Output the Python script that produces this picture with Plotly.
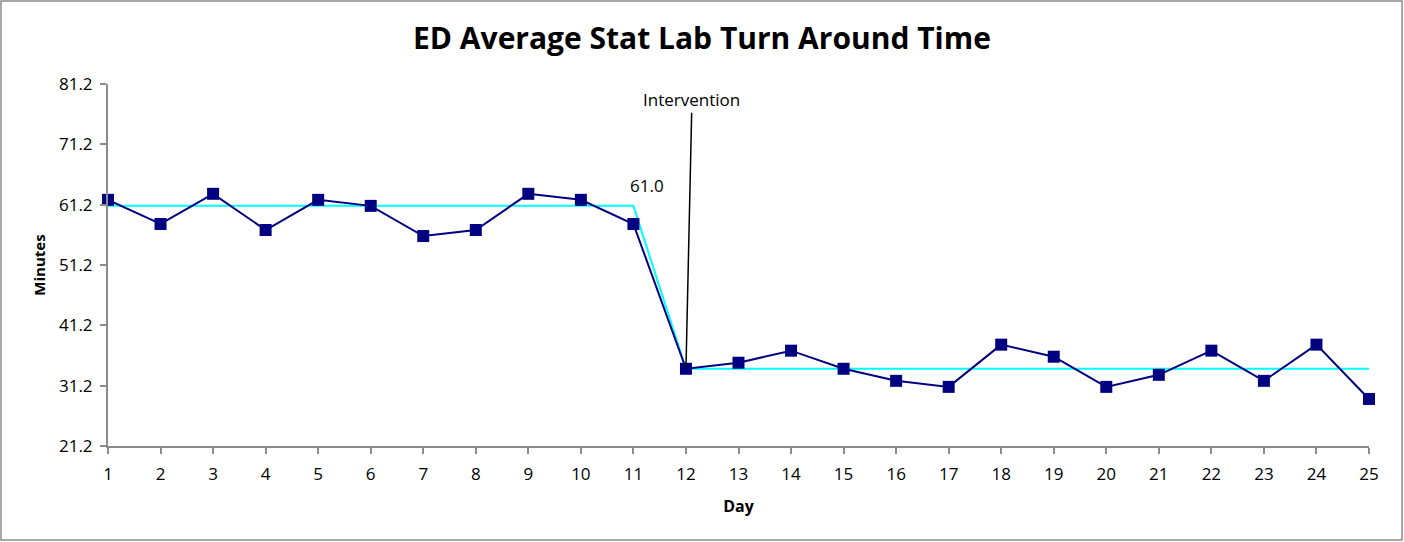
import plotly.graph_objects as go

days = list(range(1, 26))
minutes = [62, 58, 63, 57, 62, 61, 56, 57, 63, 62, 58,
           34, 35, 37, 34, 32, 31, 38, 36, 31, 33, 37, 32, 38, 29]
mean_line = [61.0] * 11 + [34.0] * 14
y_ticks = [21.2, 31.2, 41.2, 51.2, 61.2, 71.2, 81.2]

FONT = "Open Sans"

fig = go.Figure()
fig.add_trace(go.Scatter(
    x=days, y=mean_line, mode="lines",
    line=dict(color="#00FFFF", width=2), cliponaxis=False, showlegend=False,
))
fig.add_trace(go.Scatter(
    x=days, y=minutes, mode="lines+markers",
    line=dict(color="#000080", width=2),
    marker=dict(symbol="square", size=12, color="#000080"),
    cliponaxis=False, showlegend=False,
))

fig.add_annotation(x=12, y=minutes[11], xref="x", yref="y",
                   text="Intervention", showarrow=True, arrowhead=0,
                   arrowwidth=1.5, arrowcolor="black", ax=6, ay=-269,
                   font=dict(family=FONT, size=17, color="black"))
fig.add_annotation(x=11.26, y=64.3, xref="x", yref="y", text="61.0",
                   showarrow=False, font=dict(family=FONT, size=17, color="black"))

# outer border
fig.add_shape(type="rect", xref="paper", yref="paper",
              x0=(1 - 108) / 1261, x1=(1402 - 108) / 1261,
              y0=(446 - 540) / 362, y1=(446 - 1) / 362,
              line=dict(color="#8c8c8c", width=1.5), layer="below")

fig.update_layout(
    width=1404, height=542,
    margin=dict(l=108, r=35, t=84, b=96),
    plot_bgcolor="white", paper_bgcolor="white",
    title=dict(text="<b>ED Average Stat Lab Turn Around Time</b>", x=0.5, xanchor="center",
               y=1 - 38 / 542, yanchor="middle",
               font=dict(family=FONT, size=30, color="black")),
    xaxis=dict(range=[1, 25], tickmode="array", tickvals=days,
               showgrid=False, zeroline=False, showline=True, linecolor="#8c8c8c", linewidth=2,
               ticks="outside", ticklen=6, tickcolor="#8c8c8c", tickwidth=2,
               ticklabelstandoff=6,
               tickfont=dict(family=FONT, size=17, color="black"),
               title=dict(text="<b>Day</b>", standoff=16,
                          font=dict(family=FONT, size=16, color="black"))),
    yaxis=dict(range=[21.2, 81.2], tickmode="array", tickvals=y_ticks,
               ticktext=[f"{v:.1f}" for v in y_ticks],
               showgrid=False, zeroline=False, showline=True, linecolor="#8c8c8c", linewidth=2,
               ticks="outside", ticklen=6, tickcolor="#8c8c8c", tickwidth=2,
               ticklabelstandoff=4,
               tickfont=dict(family=FONT, size=17, color="black"),
               title=dict(text="<b>Minutes</b>", standoff=10,
                          font=dict(family=FONT, size=15, color="black"))),
)

fig.write_html("out.html", config={"displayModeBar": False},
               post_script="document.body.style.margin='0';")
